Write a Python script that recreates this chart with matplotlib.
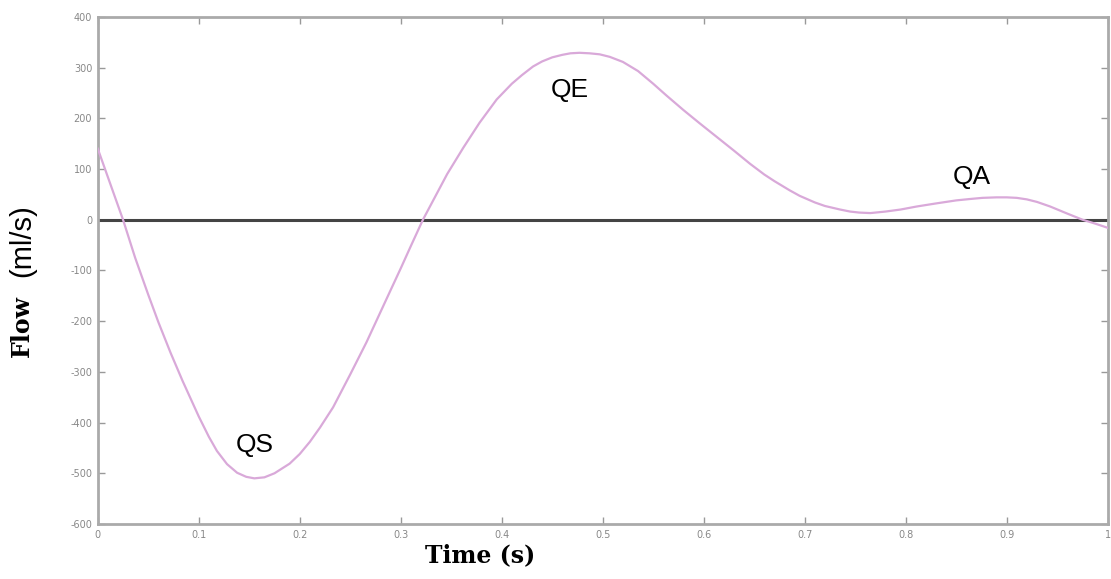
import numpy as np
import matplotlib.pyplot as plt

plt.rcParams['axes.unicode_minus'] = False

# flow curve (time in s, flow in ml/s)
time_s = [0.0, 0.0125, 0.025, 0.037, 0.05, 0.06, 0.072, 0.084, 0.10, 0.11,
          0.118, 0.128, 0.138, 0.147, 0.155, 0.165, 0.175, 0.19, 0.20, 0.21,
          0.22, 0.233, 0.25, 0.266, 0.276, 0.286, 0.30, 0.31, 0.322, 0.334,
          0.346, 0.362, 0.378, 0.395, 0.41, 0.42, 0.431, 0.44, 0.45, 0.46,
          0.468, 0.477, 0.487, 0.497, 0.507, 0.52, 0.535, 0.55, 0.563, 0.58,
          0.596, 0.613, 0.63, 0.646, 0.66, 0.67, 0.685, 0.695, 0.71, 0.72,
          0.735, 0.745, 0.754, 0.765, 0.78, 0.795, 0.811, 0.83, 0.85, 0.865,
          0.876, 0.89, 0.90, 0.91, 0.92, 0.93, 0.943, 0.96, 0.975, 0.988, 1.0]
flow = [140, 70, 0, -75, -148, -202, -262, -318, -388, -428,
        -456, -482, -499, -507, -510, -508, -500, -481, -462, -438,
        -410, -370, -305, -242, -199, -156, -96, -52, 0, 45,
        90, 142, 191, 237, 268, 285, 302, 312, 320, 325,
        328, 329, 328, 326, 321, 311, 293, 268, 245, 216,
        190, 163, 136, 110, 89, 76, 58, 47, 34, 27,
        20, 16, 14, 13, 16, 20, 26, 32, 38, 41,
        43, 44, 44, 43, 40, 35, 26, 12, 0, -8, -16]

peak_labels = ['QS', 'QE', 'QA']
peak_t = [0.155, 0.467, 0.865]
peak_y = [-445, 255, 85]

x_ticks = np.round(np.arange(0, 1.01, 0.1), 1)
x_ticklabels = ['0', '0.1', '0.2', '0.3', '0.4', '0.5', '0.6', '0.7', '0.8', '0.9', '1']
y_ticks = np.arange(-600, 401, 100)

fig = plt.figure(figsize=(11.11, 5.79), dpi=100)
ax = fig.add_axes([0.088, 0.095, 0.909, 0.876])

ax.axhline(0, color='#444444', lw=2.2, zorder=2)
ax.plot(time_s, flow, color='#d9a9d9', lw=1.6, zorder=3,
        solid_joinstyle='round')

for lab, tx, ty in zip(peak_labels, peak_t, peak_y):
    ax.text(tx, ty, lab, fontsize=19, family='Liberation Sans',
            ha='center', va='center', color='black')

ax.set_xlim(0, 1)
ax.set_ylim(-600, 400)
ax.set_xticks(x_ticks)
ax.set_xticklabels(x_ticklabels)
ax.set_yticks(y_ticks)
ax.tick_params(direction='in', length=5, width=1, colors='#999999',
               labelcolor='#888888', labelsize=7, top=True, right=True, pad=4)
for sp in ax.spines.values():
    sp.set_color('#aaaaaa')
    sp.set_linewidth(2)

fig.text(0.432, 0.02, 'Time (s)', fontsize=17, family='DejaVu Serif',
         weight='bold', ha='center', va='bottom')
fig.text(0.02, 0.437, 'Flow', fontsize=17, family='DejaVu Serif',
         weight='bold', rotation=90, ha='center', va='center')
fig.text(0.02, 0.585, '(ml/s)', fontsize=21, family='Liberation Sans',
         rotation=90, ha='center', va='center')

fig.savefig('out.png', dpi=100)
